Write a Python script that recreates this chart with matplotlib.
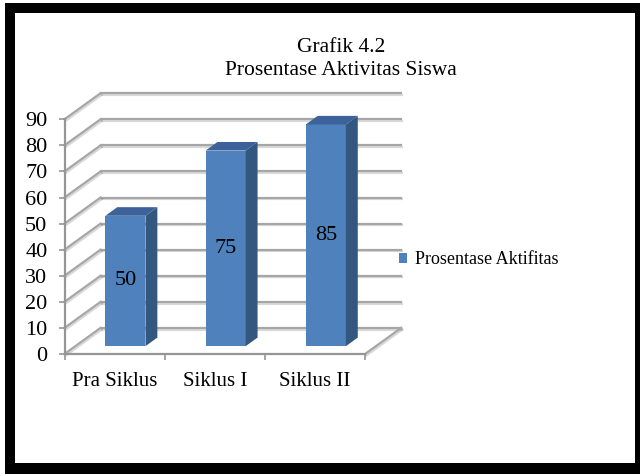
import matplotlib
matplotlib.use('Agg')
import matplotlib.pyplot as plt
import matplotlib.patheffects as pe
from matplotlib.patches import Polygon, Rectangle

categories = ['Pra Siklus', 'Siklus I', 'Siklus II']
values = [50, 75, 85]
series_name = 'Prosentase Aktifitas'
title_lines = ['Grafik 4.2', 'Prosentase Aktivitas Siswa']
yticks = list(range(0, 100, 10))

plt.rcParams['font.family'] = ['Liberation Serif', 'DejaVu Serif']

W, H = 640, 474
fig = plt.figure(figsize=(W / 100, H / 100), dpi=100)

# black frame round the chart
fig.patches.append(Rectangle((5 / W, 0), 635 / W, 471 / H, transform=fig.transFigure,
                             facecolor='black', edgecolor='none', zorder=-10))
fig.patches.append(Rectangle((15 / W, 11 / H), 620 / W, 450 / H, transform=fig.transFigure,
                             facecolor='white', edgecolor='none', zorder=-9))

# fake 3d depth, in data units (categories, value)
dx, dy = 0.36, 10
f0, f1 = 0.3, 0.63        # bar starts / ends at these fractions of the depth
bw = 0.4

ax = fig.add_axes([64.5 / W, (H - 354) / H, 3.4 * 100.2 / W, 100 * 2.608 / H])
ax.set_xlim(0, 3.4)
ax.set_ylim(0, 100)
ax.patch.set_visible(False)

grid = '#A6A6A6'
shadow = [pe.SimpleLineShadow(offset=(0.8, -1.2), alpha=0.15), pe.Normal()]
for v in yticks:
    ax.plot([dx, 3 + dx], [v + dy, v + dy], color=grid, lw=1.6, zorder=1,
            clip_on=False, path_effects=shadow)
    ax.plot([0, dx], [v, v + dy], color=grid, lw=1.6, zorder=1,
            clip_on=False, path_effects=shadow)
ax.plot([3, 3 + dx], [0, dy], color=grid, lw=1.6, zorder=1, clip_on=False,
        path_effects=shadow)

n = len(categories)
xs = [i + 0.5 + f0 * dx for i in range(n)]
bars = ax.bar(xs, values, width=bw, bottom=f0 * dy, color='#4F81BD',
              edgecolor='none', zorder=3, label=series_name)

ddx, ddy = (f1 - f0) * dx, (f1 - f0) * dy
for x, v in zip(xs, values):
    x0, x1 = x - bw / 2, x + bw / 2
    b, t = f0 * dy, f0 * dy + v
    ax.add_patch(Polygon([(x1, b), (x1 + ddx, b + ddy), (x1 + ddx, t + ddy), (x1, t)],
                         closed=True, facecolor='#34577F', edgecolor='none', zorder=3))
    ax.add_patch(Polygon([(x0, t), (x1, t), (x1 + ddx, t + ddy), (x0 + ddx, t + ddy)],
                         closed=True, facecolor='#3D6299', edgecolor='none', zorder=3))
    ax.text(x, b + v / 2, str(v), ha='center', va='center', fontsize=16, zorder=4)

for s in ['top', 'right']:
    ax.spines[s].set_visible(False)
ax.spines['left'].set_bounds(0, 90)
ax.spines['bottom'].set_bounds(0, 3)
for s in ['left', 'bottom']:
    ax.spines[s].set_color('#969696')
    ax.spines[s].set_linewidth(1.6)
    ax.spines[s].set_zorder(2)

ax.set_yticks(yticks)
ax.set_yticklabels([str(t) for t in yticks], fontsize=16)
ax.tick_params(axis='y', length=4.3, width=1.2, color='#969696', pad=8)

ax.set_xticks(range(n + 1))
ax.set_xticklabels([])
ax.set_xticks([i + 0.5 for i in range(n)], minor=True)
ax.set_xticklabels(categories, minor=True, fontsize=15)
ax.tick_params(axis='x', which='major', length=4.3, width=1.2, color='#969696')
ax.tick_params(axis='x', which='minor', length=0, pad=13)

fig.text(341 / W, 1 - 52 / H, title_lines[0], ha='center', va='baseline', fontsize=15.5)
fig.text(341 / W, 1 - 75 / H, title_lines[1], ha='center', va='baseline', fontsize=15.5)

fig.legend(handles=[bars], loc='center left', bbox_to_anchor=(399 / W, 1 - 260 / H),
           frameon=False, fontsize=13, handlelength=0.45, handleheight=0.45,
           handletextpad=0.45, borderpad=0, borderaxespad=0)

fig.savefig('out.png', dpi=100)
